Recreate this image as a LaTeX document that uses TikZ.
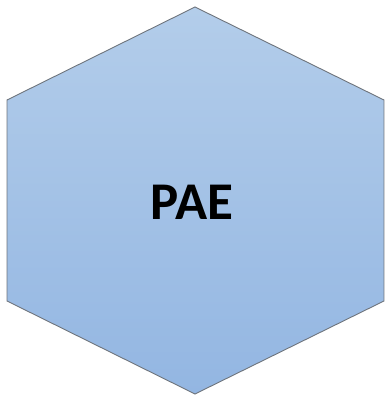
\documentclass[tikz,border=0pt]{standalone}
\usepackage{fontspec}
\setmainfont{Carlito}
\usepackage{xcolor}
\definecolor{hextop}{HTML}{B3CDEA}
\definecolor{hexbot}{HTML}{93B6E2}
\definecolor{hexline}{HTML}{6E747C}

\begin{document}
\begin{tikzpicture}[x=1pt,y=1pt]
            \useasboundingbox (0,0) rectangle (385,396);
            \def\hexagon{(195,389) -- (384,296) -- (384,95) -- (195,2) -- (7,95) -- (7,296) -- cycle}

            \shade[top color=hextop, bottom color=hexbot] \hexagon;
            \draw[hexline, line width=0.9pt, line join=miter] \hexagon;

            \node (pae) at (192, 194) {\fontsize{53}{58}\selectfont\bfseries PAE};
        \end{tikzpicture}
\end{document}
